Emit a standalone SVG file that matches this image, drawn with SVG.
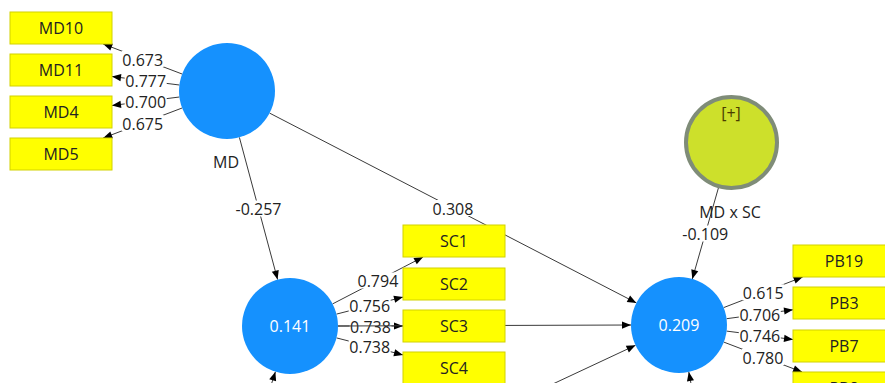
<svg xmlns="http://www.w3.org/2000/svg" width="885" height="383" viewBox="0 0 885 383">
<style>
text{font-family:"Open Sans","Noto Sans","DejaVu Sans",sans-serif;font-size:16px;text-anchor:middle;fill:#222}
.ind rect{fill:#ffff00;stroke:#d2d200;stroke-width:1}
.lv{fill:#1591fe}
.w{fill:#ffffff}
.ln{stroke:#3a3a3a;stroke-width:1;fill:none;marker-end:url(#ah)}
.bg{fill:#ffffff}
</style>
<defs>
<marker id="ah" viewBox="-10 -5 10 10" refX="0" refY="0" markerWidth="10" markerHeight="10" markerUnits="userSpaceOnUse" orient="auto">
<path d="M0,0 L-9,-3.6 L-9,3.6 z" fill="#000"/>
</marker>
</defs>
<rect width="885" height="383" fill="#ffffff"/>
<g id="connectors">
<line class="ln" x1="182.1" y1="74" x2="103.2" y2="44"/>
<line class="ln" x1="179.4" y1="85" x2="112" y2="76.5"/>
<line class="ln" x1="179.4" y1="97" x2="112" y2="105.5"/>
<line class="ln" x1="182.1" y1="108" x2="103.2" y2="138"/>
<line class="ln" x1="239.4" y1="137.4" x2="277.6" y2="279.6"/>
<line class="ln" x1="269.6" y1="113.1" x2="636.4" y2="302.9"/>
<line class="ln" x1="332.6" y1="303.9" x2="423.1" y2="257"/>
<line class="ln" x1="336.5" y1="314.1" x2="403" y2="297.1"/>
<line class="ln" x1="338" y1="326" x2="403" y2="326"/>
<line class="ln" x1="336.5" y1="337.9" x2="403" y2="354.9"/>
<line class="ln" x1="718.4" y1="188" x2="692.3" y2="279"/>
<line class="ln" x1="723.7" y1="307.6" x2="802.7" y2="277"/>
<line class="ln" x1="726.6" y1="318.7" x2="793" y2="309.8"/>
<line class="ln" x1="726.6" y1="331.1" x2="793" y2="339.5"/>
<line class="ln" x1="723.8" y1="342.1" x2="802.1" y2="372"/>
<line class="ln" x1="260" y1="420" x2="275.4" y2="371.7"/>
<line class="ln" x1="540" y1="390" x2="635.5" y2="345.3"/>
<line class="ln" x1="696" y1="410" x2="688.8" y2="372"/>
<g id="labels">
<rect class="bg" x="121.7" y="51" width="42" height="16"/><text x="142.7" y="65.5">0.673</text>
<rect class="bg" x="124.7" y="72.7" width="42" height="16"/><text x="145.7" y="87">0.777</text>
<rect class="bg" x="124.7" y="93.3" width="42" height="16"/><text x="145.7" y="107.7">0.700</text>
<rect class="bg" x="121.7" y="115" width="42" height="16"/><text x="142.7" y="129.5">0.675</text>
<rect class="bg" x="234.5" y="200.5" width="48" height="16"/><text x="258.5" y="215">-0.257</text>
<rect class="bg" x="432" y="200" width="42" height="16"/><text x="453" y="214.5">0.308</text>
<rect class="bg" x="356.9" y="272.5" width="42" height="16"/><text x="377.9" y="287">0.794</text>
<rect class="bg" x="348.7" y="297.6" width="42" height="16"/><text x="369.7" y="312">0.756</text>
<rect class="bg" x="349.5" y="318" width="42" height="16"/><text x="370.5" y="332.5">0.738</text>
<rect class="bg" x="348.7" y="338.4" width="42" height="16"/><text x="369.7" y="352.8">0.738</text>
<rect class="bg" x="681.3" y="225.5" width="48" height="16"/><text x="705.3" y="240">-0.109</text>
<rect class="bg" x="742.2" y="284.3" width="42" height="16"/><text x="763.2" y="298.8">0.615</text>
<rect class="bg" x="738.8" y="306.2" width="42" height="16"/><text x="759.8" y="320.7">0.706</text>
<rect class="bg" x="738.8" y="327.3" width="42" height="16"/><text x="759.8" y="341.8">0.746</text>
<rect class="bg" x="742" y="349" width="42" height="16"/><text x="763" y="363.5">0.780</text>
</g>
<line class="ln" x1="338" y1="326" x2="631" y2="325"/>
</g>
<g id="MD10" class="ind"><rect x="10" y="12" width="102" height="32"/><text x="61" y="33.7">MD10</text></g>
<g id="MD11" class="ind"><rect x="10" y="54" width="102" height="32"/><text x="61" y="75.7">MD11</text></g>
<g id="MD4" class="ind"><rect x="10" y="96" width="102" height="32"/><text x="61" y="117.7">MD4</text></g>
<g id="MD5" class="ind"><rect x="10" y="138" width="102" height="32"/><text x="61" y="159.7">MD5</text></g>
<g id="SC1" class="ind"><rect x="403" y="225" width="102" height="32"/><text x="454" y="246.7">SC1</text></g>
<g id="SC2" class="ind"><rect x="403" y="268" width="102" height="32"/><text x="454" y="289.7">SC2</text></g>
<g id="SC3" class="ind"><rect x="403" y="310" width="102" height="32"/><text x="454" y="331.7">SC3</text></g>
<g id="SC4" class="ind"><rect x="403" y="352" width="102" height="32"/><text x="454" y="373.7">SC4</text></g>
<g id="PB19" class="ind"><rect x="793" y="245" width="102" height="32"/><text x="844" y="266.7">PB19</text></g>
<g id="PB3" class="ind"><rect x="793" y="287" width="102" height="32"/><text x="844" y="308.7">PB3</text></g>
<g id="PB7" class="ind"><rect x="793" y="330" width="102" height="32"/><text x="844" y="351.7">PB7</text></g>
<g id="PB8" class="ind"><rect x="793" y="372" width="102" height="32"/><text x="844" y="393.7">PB8</text></g>
<g id="MD"><circle class="lv" cx="227" cy="91" r="48"/><text x="226" y="167.7">MD</text></g>
<g id="SC"><circle class="lv" cx="290" cy="326" r="48"/><text class="w" x="290" y="331.7">0.141</text></g>
<g id="PB"><circle class="lv" cx="679" cy="325" r="48"/><text class="w" x="679" y="330.7">0.209</text></g>
<g id="MDxSC"><circle cx="731.5" cy="142.5" r="45.5" fill="#cde02b" stroke="#7f8c78" stroke-width="4"/><text x="731" y="118.5" style="fill:#4a3c00">[+]</text><text x="730" y="217.7">MD x SC</text></g>
</svg>
